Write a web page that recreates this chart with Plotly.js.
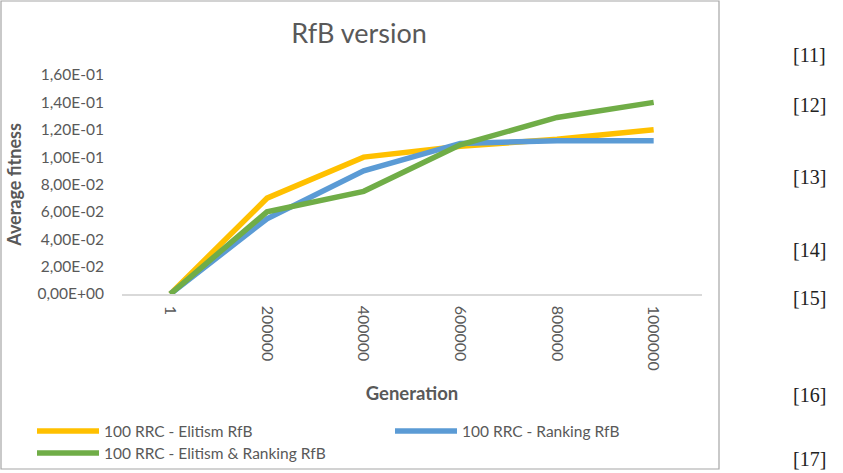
<!DOCTYPE html>
<html>
<head>
<meta charset="utf-8">
<script src="https://cdn.plot.ly/plotly-3.0.1.min.js"></script>
<style>html,body{margin:0;padding:0;background:#fff;}#chart{width:843px;height:473px;}</style>
</head>
<body>
<div id="chart"></div>
<script>
// ---- data ----
var generations = ["1", "200000", "400000", "600000", "800000", "1000000"];
var elitism = [0, 0.070, 0.100, 0.108, 0.113, 0.120];
var ranking = [0, 0.055, 0.090, 0.110, 0.112, 0.112];
var elitismRanking = [0, 0.060, 0.075, 0.109, 0.129, 0.140];
var seriesNames = ["100 RRC - Elitism RfB", "100 RRC - Ranking RfB", "100 RRC - Elitism & Ranking RfB"];
var seriesColors = ["#FFC000", "#5B9BD5", "#70AD47"];
var yTickVals = [0, 0.02, 0.04, 0.06, 0.08, 0.10, 0.12, 0.14, 0.16];
var yTickText = ["0,00E+00", "2,00E-02", "4,00E-02", "6,00E-02", "8,00E-02", "1,00E-01", "1,20E-01", "1,40E-01", "1,60E-01"];
var refLabels = ["[11]", "[12]", "[13]", "[14]", "[15]", "[16]", "[17]"];

// ---- layout helpers (pixel -> paper) ----
var L = 122, R = 702, T = 75, B = 294, W = 843, H = 473;
function px(x) { return (x - L) / (R - L); }
function py(y) { return (B - y) / (B - T); }

var font = "Lato, 'Open Sans', sans-serif";
var grey = "#595959";
var seriesValues = [elitism, ranking, elitismRanking];

var data = seriesValues.map(function (v, i) {
  return {x: generations, y: v, name: seriesNames[i], type: "scatter", mode: "lines",
    line: {color: seriesColors[i], width: 5.5, shape: "linear"}, hoverinfo: "skip", showlegend: false};
});

var refY = [55, 105, 177, 250, 298, 395, 459];
var annotations = refLabels.map(function (t, i) {
  return {text: t, xref: "paper", yref: "paper", x: px(828), y: py(refY[i]),
    xanchor: "right", yanchor: "middle", showarrow: false,
    font: {family: "'Liberation Serif', 'DejaVu Serif', serif", size: 20, color: "#222"}};
});

// legend (drawn as shapes + text)
var legX = [37, 395, 37], legY = [431, 431, 453];
var shapes = [{type: "rect", xref: "paper", yref: "paper", x0: px(1), x1: px(719), y0: py(1), y1: py(469),
  line: {color: "#a6a6a6", width: 1.2}, fillcolor: "rgba(0,0,0,0)", layer: "below"}];
seriesNames.forEach(function (n, i) {
  shapes.push({type: "line", xref: "paper", yref: "paper", x0: px(legX[i]), x1: px(legX[i] + 62),
    y0: py(legY[i]), y1: py(legY[i]), line: {color: seriesColors[i], width: 5.5}});
  annotations.push({text: n, xref: "paper", yref: "paper", x: px(legX[i] + 66), y: py(legY[i]),
    xanchor: "left", yanchor: "middle", showarrow: false, borderpad: 0,
    font: {family: font, size: 15.5, color: grey}});
});

var layout = {
  width: W, height: H,
  margin: {l: L, r: W - R, t: T, b: H - B, pad: 0},
  paper_bgcolor: "#fff", plot_bgcolor: "#fff",
  font: {family: font, color: grey},
  title: {text: "RfB version", x: 359 / W, xanchor: "center", y: 1 - 34 / H, yanchor: "middle",
    font: {family: font, size: 27, color: grey}},
  xaxis: {type: "category", range: [-0.5, 5.5], showgrid: false, zeroline: false,
    showline: true, linecolor: "#d9d9d9", linewidth: 1.5, ticks: "", tickangle: 90,
    ticklabelstandoff: 7,
    tickfont: {family: font, size: 16, color: grey},
    title: {text: "<b>Generation</b>", standoff: 17, font: {family: font, size: 18.5, color: grey}},
    automargin: false, fixedrange: true},
  yaxis: {range: [0, 0.16], tickvals: yTickVals, ticktext: yTickText, showgrid: false,
    zeroline: false, showline: false, ticks: "", ticklabelstandoff: 17,
    tickfont: {family: font, size: 15.5, color: grey},
    title: {text: "<b>Average fitness</b>", standoff: 11, font: {family: font, size: 18, color: grey}},
    automargin: false, fixedrange: true},
  showlegend: false,
  shapes: shapes,
  annotations: annotations
};

Plotly.newPlot("chart", data, layout, {staticPlot: true, displayModeBar: false});
</script>
</body>
</html>
